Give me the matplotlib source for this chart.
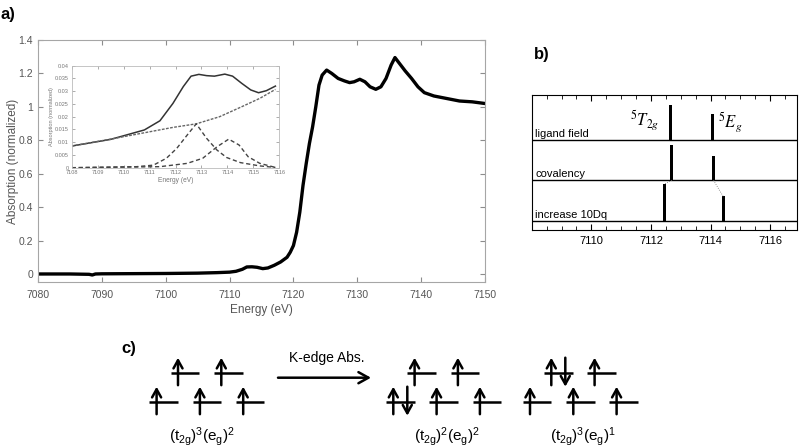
import matplotlib
matplotlib.use("Agg")
import matplotlib.pyplot as plt
from matplotlib.ticker import MultipleLocator

plt.rcParams['font.family'] = ['Liberation Sans', 'DejaVu Sans']
plt.rcParams['mathtext.fontset'] = 'custom'
plt.rcParams['mathtext.rm'] = 'Liberation Sans'
plt.rcParams['mathtext.it'] = 'Liberation Sans:italic'

# ----- a) Fe K-edge XAS spectrum -----
energy = [7080, 7085, 7088, 7088.5, 7089, 7090, 7095, 7100, 7105, 7108, 7110, 7111,
          7112, 7112.7, 7113.5, 7114.3, 7115.2, 7116, 7117, 7118, 7119, 7119.5, 7120,
          7120.5, 7121, 7121.5, 7122, 7122.5, 7123, 7123.5, 7124, 7124.5, 7125.2, 7126,
          7127, 7128, 7128.8, 7129.5, 7130.4, 7131.2, 7132, 7132.9, 7133.7, 7134.5,
          7135.3, 7135.9, 7136.6, 7137.5, 7138.5, 7139.5, 7140.5, 7142, 7144, 7146,
          7148, 7150]
absorb = [0.0, 0.0, -0.002, -0.006, 0.0, 0.001, 0.002, 0.003, 0.005, 0.008, 0.011, 0.016,
          0.028, 0.042, 0.043, 0.040, 0.032, 0.036, 0.052, 0.072, 0.10, 0.13, 0.17,
          0.25, 0.37, 0.53, 0.66, 0.78, 0.88, 1.0, 1.13, 1.19, 1.22, 1.20,
          1.17, 1.155, 1.145, 1.15, 1.165, 1.15, 1.12, 1.105, 1.12, 1.17,
          1.25, 1.295, 1.26, 1.215, 1.17, 1.12, 1.085, 1.065, 1.05, 1.035,
          1.03, 1.02]

# inset: pre-edge fit
pre_e = [7108, 7109.5, 7110.8, 7111.4, 7111.9, 7112.3, 7112.6, 7112.9, 7113.2, 7113.5,
         7113.9, 7114.2, 7114.55, 7114.9, 7115.2, 7115.5, 7115.85]
pre_total = [0.0085, 0.0111, 0.0148, 0.0184, 0.0252, 0.0318, 0.0359, 0.0366, 0.0361,
             0.0359, 0.0367, 0.0359, 0.0331, 0.0305, 0.0294, 0.0302, 0.032]
base_e = [7108, 7109.5, 7110.8, 7111.9, 7112.8, 7113.7, 7114.55, 7115.25, 7115.85]
base_y = [0.0085, 0.0112, 0.0137, 0.0158, 0.0172, 0.020, 0.0239, 0.0272, 0.0307]
pk1_e = [7108, 7110.5, 7111.15, 7111.65, 7112.05, 7112.45, 7112.8, 7113.2, 7113.6,
         7113.97, 7114.5, 7115.25, 7115.85]
pk1_y = [0.0, 0.0004, 0.001, 0.0037, 0.0076, 0.0128, 0.0172, 0.0115, 0.0069,
         0.004, 0.002, 0.0007, 0.0001]
pk2_e = [7108, 7111.4, 7112.45, 7113.05, 7113.6, 7114.05, 7114.45, 7114.8, 7115.25, 7115.85]
pk2_y = [0.0, 0.0004, 0.0017, 0.0037, 0.0082, 0.0112, 0.0089, 0.0043, 0.0017, 0.0001]

# ----- b) calculated transitions -----
rows = ["ligand field", "covalency", "increase 10Dq"]
row_base = [2, 1, 0]
t2g_pos = [7112.65, 7112.7, 7112.45]
t2g_h = [0.86, 0.86, 0.91]
eg_pos = [7114.08, 7114.1, 7114.42]
eg_h = [0.64, 0.61, 0.61]

# ----- c) d-electron configurations -----
config_labels = [r"$(\mathrm{t}_{2\mathrm{g}})^3(\mathrm{e}_\mathrm{g})^2$",
                 r"$(\mathrm{t}_{2\mathrm{g}})^2(\mathrm{e}_\mathrm{g})^2$",
                 r"$(\mathrm{t}_{2\mathrm{g}})^3(\mathrm{e}_\mathrm{g})^1$"]
lower_spins = [["u", "u", "u"], ["ud", "u", "u"], ["u", "u", "u"]]
upper_spins = [["u", "u"], ["u", "u"], ["ud", "u"]]

GRAY = '#8c8c8c'
TXT = '#555555'

fig = plt.figure(figsize=(8, 4.48), dpi=100)

# --- main spectrum ---
ax = fig.add_axes([38/800, 1-282/448, 447/800, 242/448])
ax.plot(energy, absorb, color='black', lw=2.4)
ax.set_xlim(7080, 7150)
ax.set_ylim(-0.048, 1.4)
ax.set_xticks(range(7080, 7151, 10))
ax.set_yticks([0, 0.2, 0.4, 0.6, 0.8, 1, 1.2, 1.4])
ax.set_yticklabels(['0', '0.2', '0.4', '0.6', '0.8', '1', '1.2', '1.4'])
ax.tick_params(direction='in', top=True, right=True, length=3.5, color=GRAY,
               labelcolor=TXT, labelsize=7.5)
ax.tick_params(axis='x', pad=6)
ax.tick_params(axis='y', pad=3.5)
for s in ax.spines.values():
    s.set_color('#a6a6a6')
ax.set_xlabel("Energy (eV)", color=TXT, fontsize=8.5, va='center')
ax.set_ylabel("Absorption (normalized)", color=TXT, fontsize=8.5, va='center')
ax.xaxis.set_label_coords(0.5, -0.116)
ax.yaxis.set_label_coords(-0.056, 0.5)

# --- inset ---
ins = fig.add_axes([71.7/800, 1-167.7/448, 207.6/800, 102/448])
ins.plot(pre_e, pre_total, color='#333333', lw=1.1)
ins.plot(base_e, base_y, color='#666666', lw=1.0, ls=(0, (2, 1)))
ins.plot(pk1_e, pk1_y, color='#444444', lw=1.0, ls=(0, (3, 2)))
ins.plot(pk2_e, pk2_y, color='#444444', lw=1.0, ls=(0, (3, 2)))
ins.set_xlim(7108, 7116)
ins.set_ylim(0, 0.04)
ins.set_xticks(range(7108, 7117))
ins.set_yticks([0, 0.005, 0.01, 0.015, 0.02, 0.025, 0.03, 0.035, 0.04])
ins.set_yticklabels(['0', '0.005', '0.01', '0.015', '0.02', '0.025', '0.03', '0.035', '0.04'])
ins.tick_params(direction='in', top=True, right=True, length=2, width=0.5, color=GRAY,
                labelcolor='#777777', labelsize=4, pad=2)
for s in ins.spines.values():
    s.set_color('#bbbbbb')
    s.set_linewidth(0.6)
ins.set_xlabel("Energy (eV)", color='#777777', fontsize=4.8, labelpad=1)
ins.set_ylabel("Absorption (normalized)", color='#777777', fontsize=4, labelpad=1)

# --- b) ---
bx = fig.add_axes([531.7/800, 1-230/448, 265.3/800, 135/448])
bx.bar(t2g_pos, t2g_h, width=0.1, bottom=row_base, color='black')
bx.bar(eg_pos, eg_h, width=0.1, bottom=row_base, color='black')
for lbl, b in zip(rows, row_base):
    bx.axhline(b, color='black', lw=1)
    bx.text(7108.12, b + 0.03, lbl, fontsize=8, va='bottom', ha='left')
bx.plot([t2g_pos[1], t2g_pos[2]], [row_base[1], row_base[2] + t2g_h[2]],
        color='#777777', lw=0.6, ls=':')
bx.plot([eg_pos[1], eg_pos[2]], [row_base[1], row_base[2] + eg_h[2]],
        color='#777777', lw=0.6, ls=':')
bx.text(7112.3, 2.48, r"$^5T_{2g}$", math_fontfamily='stix', fontsize=12,
        ha='right', va='center')
bx.text(7114.25, 2.44, r"$^5E_g$", math_fontfamily='stix', fontsize=12,
        ha='left', va='center')
bx.set_xlim(7108, 7116.9)
bx.set_ylim(-0.22, 3.1)
bx.set_xticks([7110, 7112, 7114, 7116])
bx.xaxis.set_minor_locator(MultipleLocator(0.5))
bx.set_yticks([])
bx.tick_params(axis='x', which='both', direction='in', top=True, labelsize=8, pad=4)
bx.tick_params(axis='x', which='major', length=4)
bx.tick_params(axis='x', which='minor', length=3)

# --- overlay for panel c) and panel letters ---
ov = fig.add_axes([0, 0, 1, 1])
ov.set_xlim(0, 800)
ov.set_ylim(448, 0)
ov.axis('off')
ov.text(8, 14, "a)", fontsize=12, fontweight='bold', ha='center', va='center')
ov.text(542, 55, "b)", fontsize=12, fontweight='bold', ha='center', va='center')
ov.text(129, 349, "c)", fontsize=12, fontweight='bold', ha='center', va='center')

lower_x0 = [149.3, 386.0, 522.7]
upper_x0 = [170.7, 407.3, 544.0]
label_x = [201.7, 447.3, 583.3]
LOW_Y, UP_Y, LEN, STEP = 401.7, 372.7, 28.5, 43.3


def spin(x, y, up=True):
    if up:
        start, end = y + 12.5, y - 15
    else:
        start, end = y - 15, y + 14
    ov.annotate('', xy=(x, end), xytext=(x, start),
                arrowprops=dict(arrowstyle='->, head_length=0.45, head_width=0.25',
                                lw=1.8, color='black', shrinkA=0, shrinkB=0,
                                mutation_scale=13))


def level(x0, y, occ):
    ov.plot([x0, x0 + LEN], [y, y], color='black', lw=1.8, solid_capstyle='butt')
    spin(x0 + 7.3, y, True)
    if occ == 'ud':
        spin(x0 + 21.3, y, False)


for g in range(3):
    for i, occ in enumerate(lower_spins[g]):
        level(lower_x0[g] + i * STEP, LOW_Y, occ)
    for i, occ in enumerate(upper_spins[g]):
        level(upper_x0[g] + i * STEP, UP_Y, occ)
    ov.text(label_x[g], 437, config_labels[g], fontsize=11, ha='center', va='center')

ov.annotate('', xy=(371, 377.7), xytext=(278, 377.7),
            arrowprops=dict(arrowstyle='->, head_length=0.45, head_width=0.25',
                            lw=1.8, color='black', shrinkA=0, shrinkB=0,
                            mutation_scale=16))
ov.text(326.7, 358, "K-edge Abs.", fontsize=10, ha='center', va='center')

fig.savefig("out.png", dpi=100)
